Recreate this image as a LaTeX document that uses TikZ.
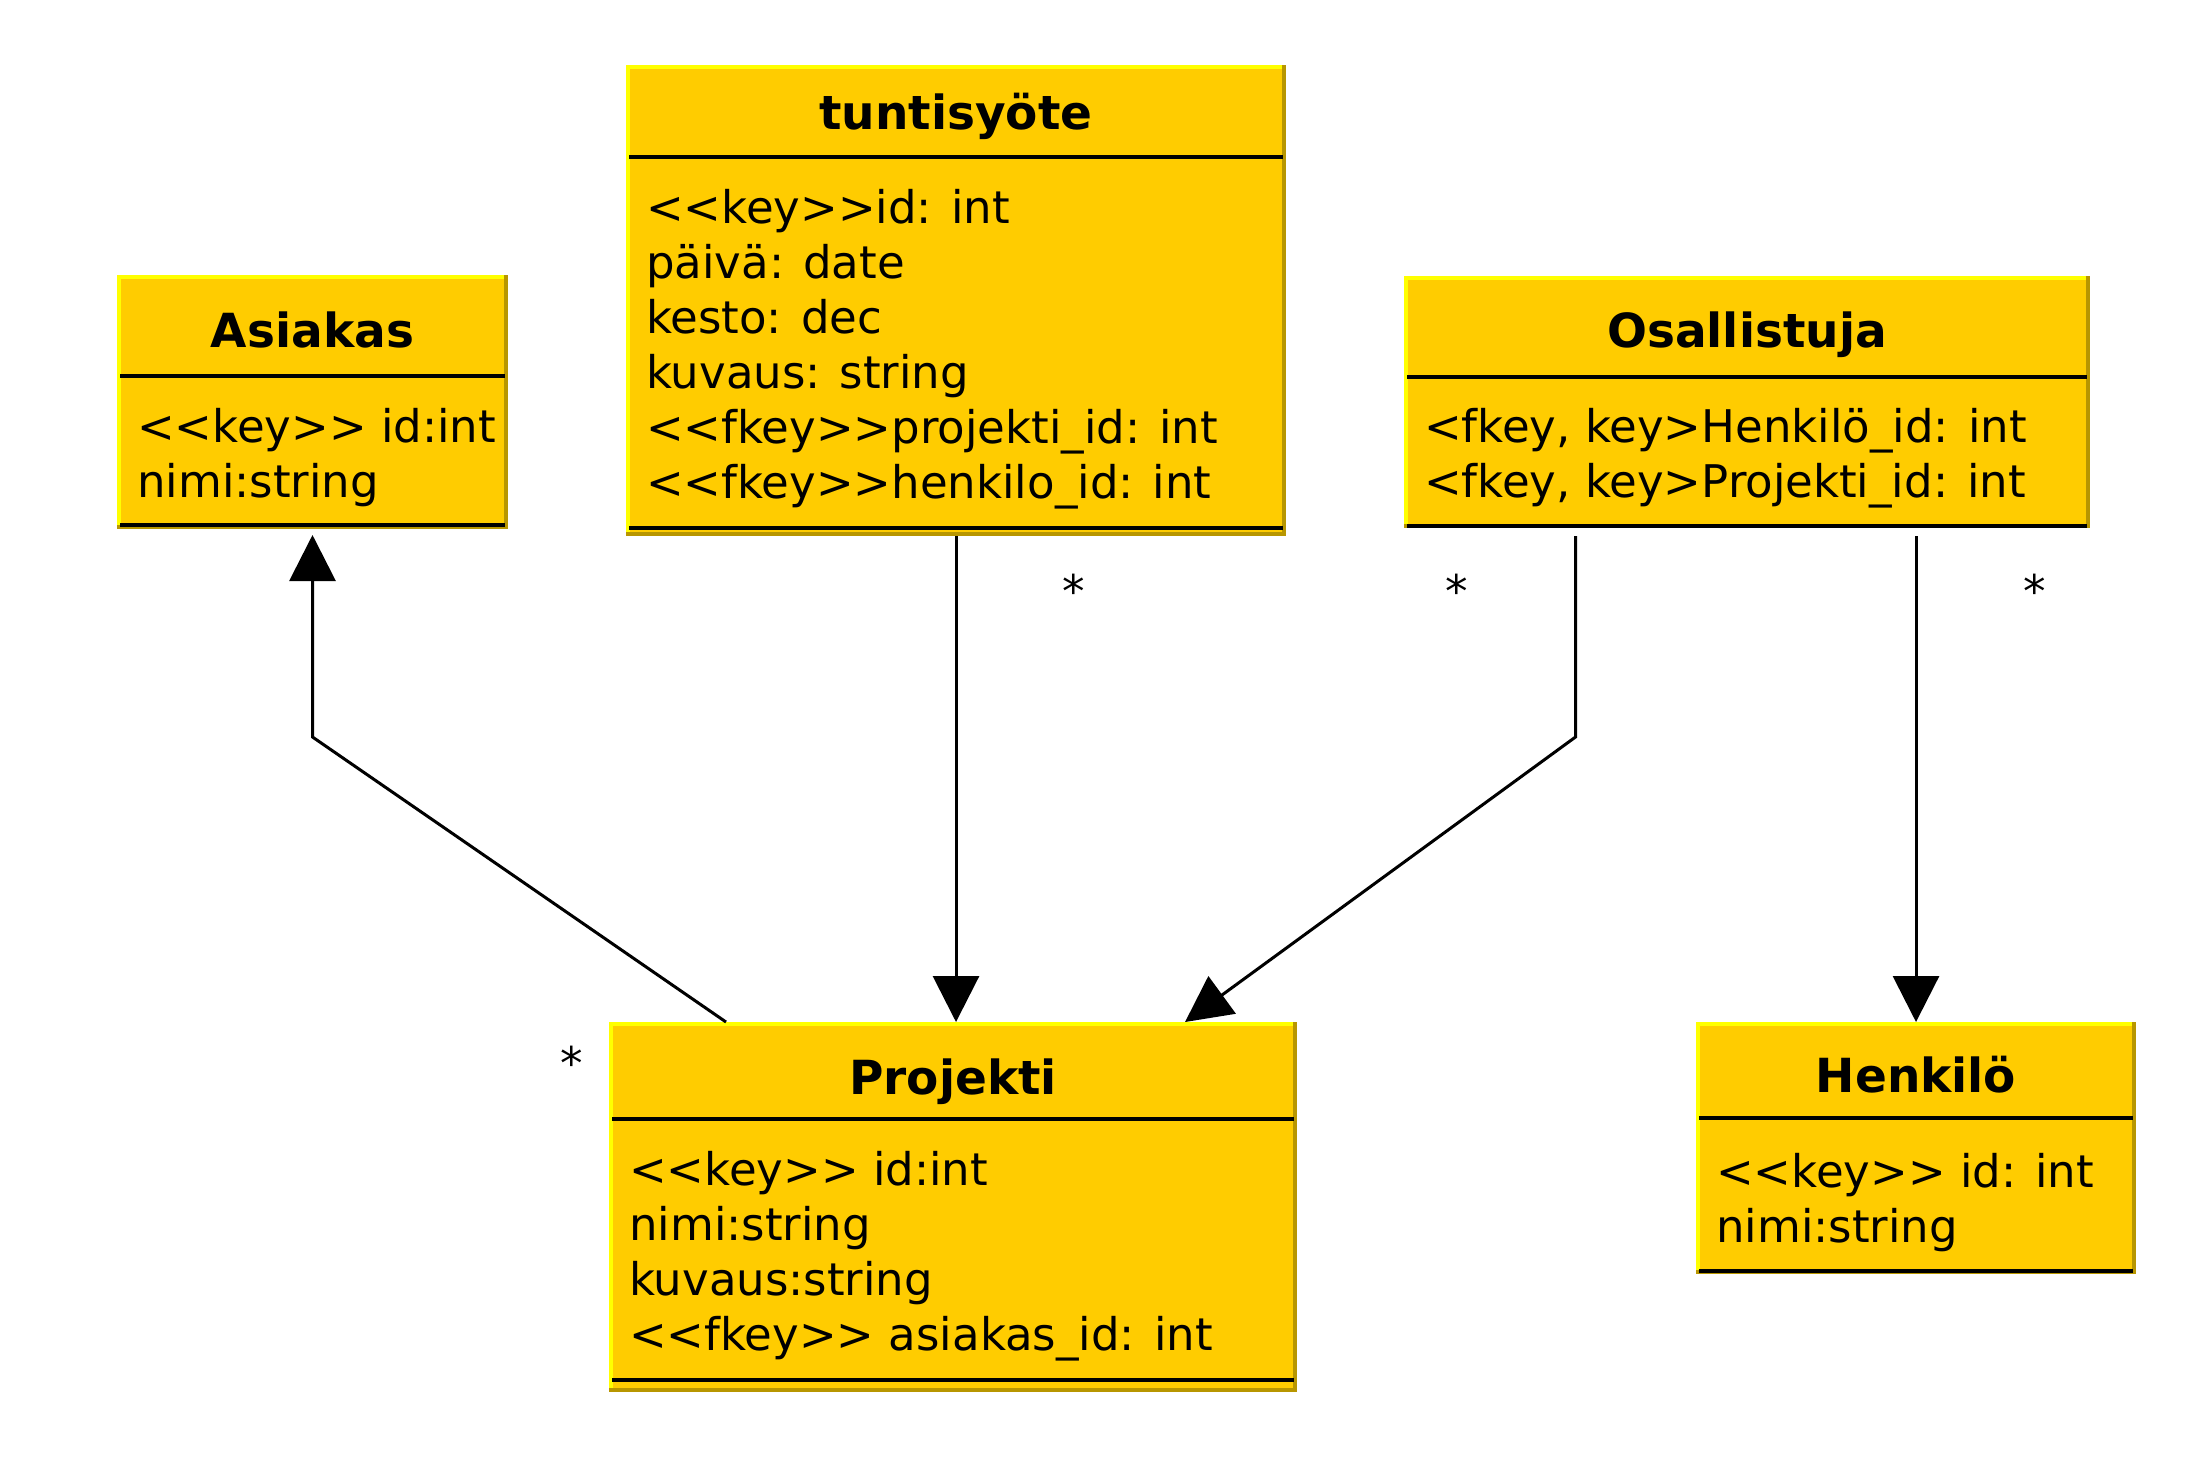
\documentclass[tikz,border=0pt]{standalone}
\usepackage{fontspec}
\setmainfont{DejaVu Sans}[Ligatures=TeXOff]
\usetikzlibrary{arrows.meta,calc}
\definecolor{boxfill}{RGB}{255,204,0}
\definecolor{boxhl}{RGB}{255,255,0}
\definecolor{boxsh}{RGB}{184,150,0}
\tikzset{
  classbox/.style={rectangle, fill=boxfill, draw=none, inner sep=0pt, outer sep=0pt, anchor=north west},
  hlstrip/.style={fill=boxhl},
  shstrip/.style={fill=boxsh},
  sepline/.style={line width=4pt},
  titletext/.style={font=\fontsize{47}{55}\selectfont\bfseries, anchor=base, inner sep=0pt},
  attrtext/.style={font=\fontsize{45}{55}\selectfont, anchor=base west, inner sep=0pt},
  multtext/.style={font=\fontsize{45}{55}\selectfont, anchor=base, inner sep=0pt},
  assoc/.style={line width=3pt, -{Triangle[length=46pt,width=46pt]}},
}
\newcommand{\classframe}[3]{%
  \fill[hlstrip] (#1.north west) rectangle ($(#1.south west)+(4,0)$);
  \fill[hlstrip] (#1.north west) rectangle ($(#1.north east)+(0,4)$);
  \fill[shstrip] ($(#1.north east)+(-4,0)$) rectangle (#1.south east);
  \fill[shstrip] ($(#1.south west)+(0,-4)$) rectangle (#1.south east);
  \draw[sepline] ($(#1.north west)+(3,#2)$) -- ($(#1.north east)+(-3,#2)$);
  \draw[sepline] ($(#1.north west)+(3,#3)$) -- ($(#1.north east)+(-3,#3)$);
}
\begin{document}
\begin{tikzpicture}[x=1pt,y=-1pt]
\useasboundingbox (0,0) rectangle (2210,1468);
\fill[white] (0,0) rectangle (2210,1468);

% class boxes
\node[classbox, minimum width=391pt, minimum height=254pt] (asiakas) at (117,275) {};
\node[classbox, minimum width=660pt, minimum height=471pt] (tunti) at (626,65) {};
\node[classbox, minimum width=686pt, minimum height=252pt] (osall) at (1404,276) {};
\node[classbox, minimum width=688pt, minimum height=370pt] (projekti) at (609,1022) {};
\node[classbox, minimum width=440pt, minimum height=252pt] (henkilo) at (1696,1022) {};

\classframe{asiakas}{101}{250}
\classframe{tunti}{92}{463}
\classframe{osall}{101}{249.5}
\classframe{projekti}{97}{358}
\classframe{henkilo}{96}{249}

% titles
\node[titletext] (asiakas-t) at (312.5,347) {Asiakas};
\node[titletext] (tunti-t) at (956,129) {tuntisyöte};
\node[titletext] (osall-t) at (1747,347) {Osallistuja};
\node[titletext] (projekti-t) at (953,1094) {Projekti};
\node[titletext] (henkilo-t) at (1916,1092) {Henkilö};

% attributes
\node[attrtext] (asiakas-a1) at (137,442) {<<key>> id:int};
\node[attrtext] (asiakas-a2) at (137,497) {nimi:string};

\node[attrtext] (tunti-a1) at (646,223) {<<key>>id: int};
\node[attrtext] (tunti-a2) at (646,278) {päivä: date};
\node[attrtext] (tunti-a3) at (646,333) {kesto: dec};
\node[attrtext] (tunti-a4) at (646,388) {kuvaus: string};
\node[attrtext] (tunti-a5) at (646,443) {<<fkey>>projekti\_id: int};
\node[attrtext] (tunti-a6) at (646,498) {<<fkey>>henkilo\_id: int};

\node[attrtext] (osall-a1) at (1424,442) {<fkey, key>Henkilö\_id: int};
\node[attrtext] (osall-a2) at (1424,497) {<fkey, key>Projekti\_id: int};

\node[attrtext] (projekti-a1) at (629,1185) {<<key>> id:int};
\node[attrtext] (projekti-a2) at (629,1240) {nimi:string};
\node[attrtext] (projekti-a3) at (629,1295) {kuvaus:string};
\node[attrtext] (projekti-a4) at (629,1350) {<<fkey>> asiakas\_id: int};

\node[attrtext] (henkilo-a1) at (1716,1187) {<<key>> id: int};
\node[attrtext] (henkilo-a2) at (1716,1242) {nimi:string};

% connectors
\coordinate (b1) at ($(asiakas.south)+(0,208)$);
\coordinate (p1) at ($(projekti.north west)+(117,0)$);
\draw[assoc, shorten >=6pt] (p1) -- (b1) -- (asiakas.south);

\draw[assoc] (tunti.south) -- (tunti.south |- projekti.north);

\coordinate (os1) at ($(osall.south west)!0.25!(osall.south east)$);
\coordinate (b2) at ($(os1)+(0,209)$);
\coordinate (p2) at ($(projekti.north west)+(576,0)$);
\draw[assoc, shorten <=8pt] (os1) -- (b2) -- (p2);

\draw[assoc, shorten <=8pt] (osall.south -| henkilo.north) -- (henkilo.north);

% multiplicities
\node[multtext] (m1) at (1074,607) {*};
\node[multtext] (m2) at (1457,607) {*};
\node[multtext] (m3) at (2035,607) {*};
\node[multtext] (m4) at (572,1079) {*};
\end{tikzpicture}
\end{document}
